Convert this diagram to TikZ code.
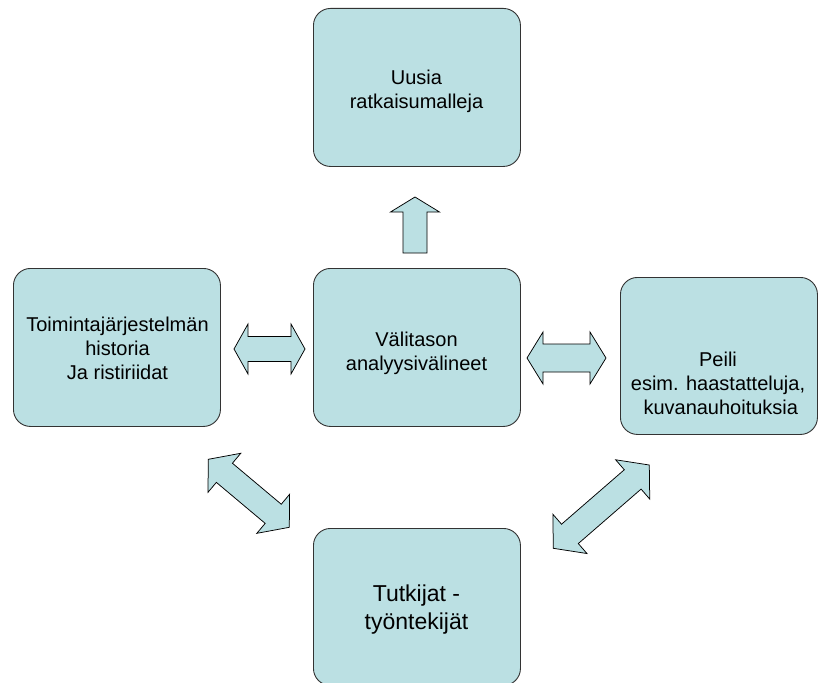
\documentclass[tikz,border=0pt]{standalone}
\usepackage{fontspec}
\setmainfont{Liberation Sans}
\usetikzlibrary{calc}

\definecolor{boxfill}{RGB}{187,224,227}

\tikzset{
  box/.style={draw=black!80, line width=0.9pt, fill=boxfill,
    rounded corners=17pt, anchor=north west, inner sep=0pt},
  boxtext/.style={align=center, inner sep=0pt,
    font=\fontsize{20}{24}\selectfont},
  bigtext/.style={align=center, inner sep=0pt,
    font=\fontsize{23}{28}\selectfont},
  blockarrow/.style={draw=black, line width=0.75pt, fill=boxfill,
    line join=miter},
}

% Double-headed block arrow between two tip coordinates.
% #1,#2: tips; #3: half shaft width; #4: half head width; #5: head length
\newcommand\twowayarrow[5]{%
  \coordinate (#1h) at ($(#1)!#5!(#2)$);
  \coordinate (#2h) at ($(#2)!#5!(#1)$);
  \draw[blockarrow] (#1)
    -- ($(#1h)!#4!90:(#2)$) -- ($(#1h)!#3!90:(#2)$)
    -- ($(#2h)!#3!-90:(#1)$) -- ($(#2h)!#4!-90:(#1)$)
    -- (#2)
    -- ($(#2h)!#4!90:(#1)$) -- ($(#2h)!#3!90:(#1)$)
    -- ($(#1h)!#3!-90:(#2)$) -- ($(#1h)!#4!-90:(#2)$)
    -- cycle;
}

% Single-headed block arrow from a base point #1 to a tip #2.
\newcommand\onewayarrow[5]{%
  \coordinate (#2h) at ($(#2)!#5!(#1)$);
  \draw[blockarrow] ($(#1)!#3!-90:(#2)$)
    -- ($(#2h)!#3!90:(#1)$) -- ($(#2h)!#4!90:(#1)$)
    -- (#2)
    -- ($(#2h)!#4!-90:(#1)$) -- ($(#2h)!#3!-90:(#1)$)
    -- ($(#1)!#3!90:(#2)$)
    -- cycle;
}

\begin{document}
\begin{tikzpicture}[x=1pt, y=-1pt]
  \useasboundingbox (0,0) rectangle (818,682);
  \fill[white] (0,0) rectangle (818,682);
  \clip (0,0) rectangle (818,682);

  % boxes
  \node[box, minimum width=207pt, minimum height=158pt] (top) at (313,8) {};
  \node[box, minimum width=207pt, minimum height=158pt] (left) at (13,268) {};
  \node[box, minimum width=207pt, minimum height=158pt] (mid) at (313,268) {};
  \node[box, minimum width=197pt, minimum height=157pt] (right) at (620,277) {};
  \node[box, minimum width=207pt, minimum height=157pt] (bottom) at (313,528) {};

  % box texts
  \node[boxtext] (toptext) at (416.5,91) {Uusia\\ratkaisumalleja};
  \node[boxtext] (lefttext) at (117.5,348) {Toimintajärjestelmän\\historia\\Ja ristiriidat};
  \node[boxtext] (midtext) at (416.5,353) {Välitason\\analyysivälineet};
  \node[boxtext] (righttext) at (718,383) {Peili\\esim. haastatteluja,\\\ kuvanauhoituksia};
  \node[bigtext] (bottomtext) at (416.5,609.5) {Tutkijat -\\työntekijät};

  % arrow tips
  \coordinate (la) at (234,349);
  \coordinate (lb) at (305,349);
  \coordinate (ra) at (527,358);
  \coordinate (rb) at (606,358);
  \coordinate (ua) at (415,253);
  \coordinate (ub) at (415,197);
  \coordinate (da) at (208.3,459.3);
  \coordinate (db) at (289.3,527.3);
  \coordinate (ea) at (553.3,548.3);
  \coordinate (eb) at (649.3,465);

  % block arrows
  \twowayarrow{la}{lb}{12.5pt}{25pt}{14pt}
  \twowayarrow{ra}{rb}{14pt}{26pt}{16pt}
  \onewayarrow{ua}{ub}{12pt}{24.5pt}{15pt}
  \twowayarrow{da}{db}{12.5pt}{25.5pt}{21pt}
  \twowayarrow{ea}{eb}{12.8pt}{26pt}{22pt}
\end{tikzpicture}
\end{document}
